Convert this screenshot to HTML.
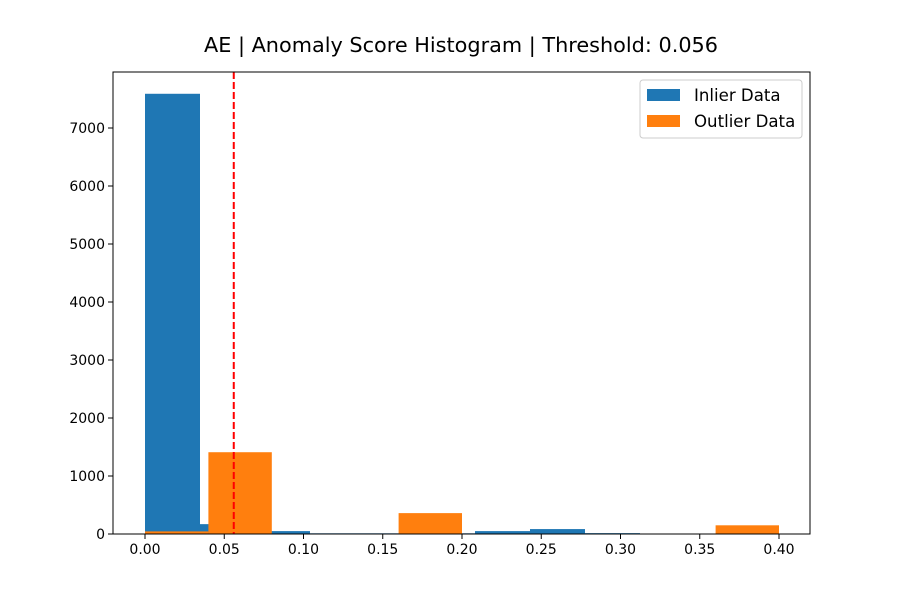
<!DOCTYPE html>
<html><head><meta charset="utf-8"><style>
body{margin:0;background:#fff}
svg{display:block;font-family:"DejaVu Sans","Liberation Sans",sans-serif}
</style></head><body>
<svg id="chart" width="900" height="600">
<rect width="900" height="600" fill="#fff"/>
<text x="461" y="52" text-anchor="middle" font-size="20.8" fill="#000">AE | Anomaly Score Histogram | Threshold: 0.056</text>
<g id="bars"></g>
<g id="axes"></g>
</svg>
<script>
const inlierEdgesStart = 0.0;
const inlierBinWidth = 0.0347;
const inlierCounts = [7590, 170, 50, 12, 12, 12, 50, 85, 15, 2];
const outlierEdgesStart = 0.0;
const outlierBinWidth = 0.04;
const outlierCounts = [45, 1410, 0, 0, 360, 0, 0, 0, 0, 150];
const xTicks = [0.00, 0.05, 0.10, 0.15, 0.20, 0.25, 0.30, 0.35, 0.40];
const yTicks = [0, 1000, 2000, 3000, 4000, 5000, 6000, 7000];
const threshold = 0.056;

const L=113,R=810,T=72,B=534;
const xs=v=>145+(v-0)*(779-145)/0.40;
const ys=v=>B-v*(B-128)/7000;
const NS="http://www.w3.org/2000/svg";
const bars=document.getElementById('bars');
const axes=document.getElementById('axes');
function mk(tag,attrs,parent){const e=document.createElementNS(NS,tag);for(const k in attrs)e.setAttribute(k,attrs[k]);parent.appendChild(e);return e;}

inlierCounts.forEach((c,i)=>{
  const x0=xs(inlierEdgesStart+i*inlierBinWidth),x1=xs(inlierEdgesStart+(i+1)*inlierBinWidth);
  const r=mk('rect',{x:x0,y:ys(c),width:x1-x0,height:B-ys(c),fill:'#1f77b4'},bars);
  
  
});
outlierCounts.forEach((c,i)=>{
  const x0=xs(outlierEdgesStart+i*outlierBinWidth),x1=xs(outlierEdgesStart+(i+1)*outlierBinWidth);
  const r=mk('rect',{x:x0,y:ys(c),width:x1-x0,height:B-ys(c),fill:'#ff7f0e'},bars);
  
  
});
const th=mk('line',{x1:xs(threshold),x2:xs(threshold),y1:T,y2:B,stroke:'#f00',"stroke-width":2,"stroke-dasharray":"7,3"},bars);



const frame=mk('rect',{x:L,y:T,width:R-L,height:B-T,fill:'none',stroke:'#000',"stroke-width":1},axes);


xTicks.forEach(v=>{
  mk('line',{x1:xs(v),x2:xs(v),y1:B,y2:B+5,stroke:'#000'},axes);
  const t=mk('text',{x:xs(v),y:B+20,"text-anchor":"middle","font-size":14},axes);
  t.textContent=v.toFixed(2);
  
  
});
yTicks.forEach(v=>{
  mk('line',{x1:L-5,x2:L,y1:ys(v),y2:ys(v),stroke:'#000'},axes);
  const t=mk('text',{x:L-8,y:ys(v)+5,"text-anchor":"end","font-size":14},axes);
  t.textContent=v;
  
  
});
const lg=mk('g',{},axes);


mk('rect',{x:640,y:80,width:162,height:58,rx:3,fill:'#fff',"fill-opacity":0.8,stroke:'#ccc'},lg);
mk('rect',{x:647,y:89,width:33,height:12,fill:'#1f77b4'},lg);
mk('rect',{x:647,y:115,width:33,height:12,fill:'#ff7f0e'},lg);
const l1=mk('text',{x:694,y:101,"font-size":16.6},lg);l1.textContent='Inlier Data';


const l2=mk('text',{x:694,y:127,"font-size":16.6},lg);l2.textContent='Outlier Data';


</script>
</body></html>
